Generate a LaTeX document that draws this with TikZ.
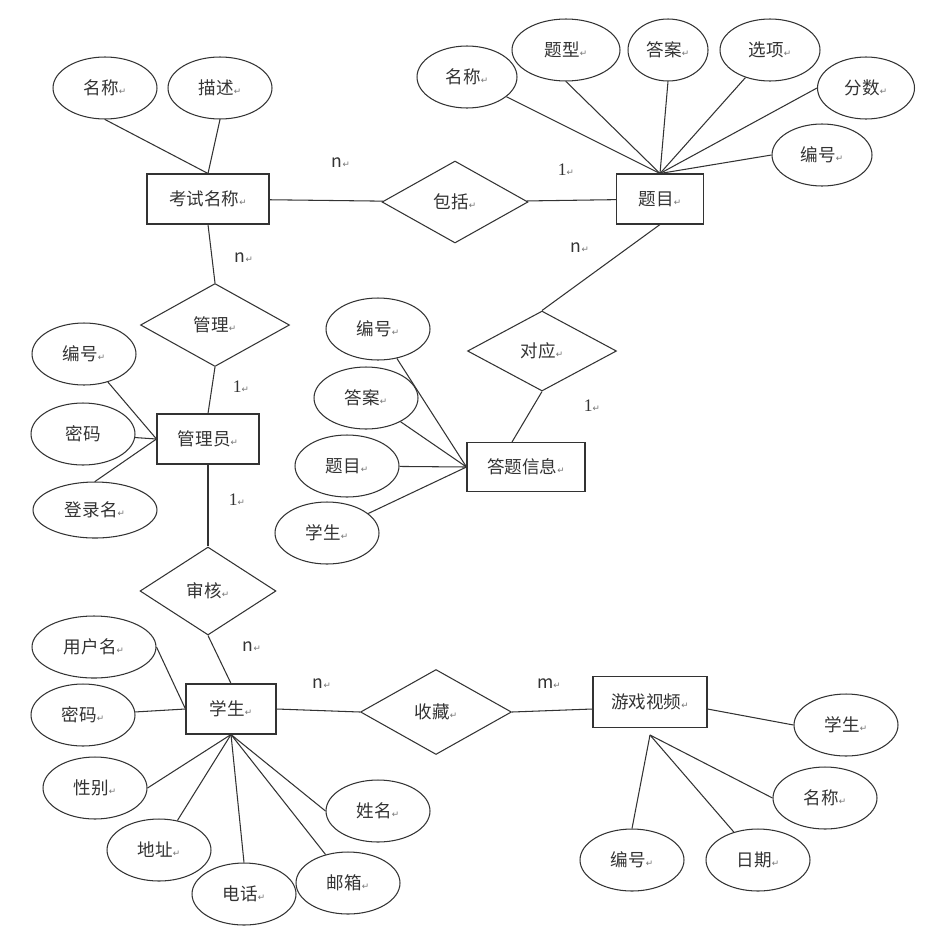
\documentclass[tikz,border=0pt]{standalone}
\usepackage{fontspec}
\setmainfont{Noto Sans CJK SC}
\newfontfamily\symfont{DejaVu Sans}
\newfontfamily\numfont{Liberation Serif}
\usetikzlibrary{shapes.geometric}
\newcommand{\pmark}{{\symfont\fontsize{5pt}{5pt}\selectfont\color{black!55}↵}}
\tikzset{
  ent/.style={draw, rectangle, inner sep=0pt, minimum width=#1, minimum height=1cm},
  attr/.style={draw, ellipse, inner sep=0pt, minimum width=#1, minimum height=1.24cm},
  attr/.default=2.08cm,
  rel/.style={draw, diamond, aspect=2, inner sep=0pt, minimum width=#1, minimum height=1.65cm},
  card/.style={inner sep=0pt}
}
\begin{document}
\begin{tikzpicture}[x=0.02cm, y=-0.02cm, line width=0.6pt, black!80, font=\fontsize{10pt}{12pt}\selectfont]
\useasboundingbox (0,0) rectangle (949,940);

% entities
\node[ent=2.44cm] (exam) at (208,199) {考试名称\pmark};
\node[ent=1.74cm] (ques) at (660,199) {题目\pmark};
\node[ent=2.36cm, minimum height=0.98cm] (answ) at (526,467) {答题信息\pmark};
\node[ent=2.04cm] (admin) at (208,439) {管理员\pmark};
\node[ent=1.8cm] (stu) at (231,709) {学生\pmark};
\node[ent=2.28cm, minimum height=1.02cm] (video) at (650,702) {游戏视频\pmark};

% relations
\node[rel=2.92cm, minimum height=1.64cm] (incl) at (455,202) {包括\pmark};
\node[rel=2.98cm, minimum height=1.66cm] (mgmt) at (215,325) {管理\pmark};
\node[rel=2.98cm, minimum height=1.6cm] (corr) at (542,351) {对应\pmark};
\node[rel=2.72cm, minimum height=1.76cm] (audit) at (208,591) {审核\pmark};
\node[rel=3.02cm, minimum height=1.7cm] (fav) at (436,712) {收藏\pmark};

% attributes of exam
\node[attr] (exname) at (105,88) {名称\pmark};
\node[attr] (exdesc) at (220,88) {描述\pmark};

% attributes of question
\node[attr=2cm] (qname) at (467,77) {名称\pmark};
\node[attr=2.16cm] (qtype) at (566,50) {题型\pmark};
\node[attr=1.6cm] (qans) at (668,50) {答案\pmark};
\node[attr=2cm] (qopt) at (770,50) {选项\pmark};
\node[attr=1.94cm] (qscore) at (866,88) {分数\pmark};
\node[attr=2cm] (qid) at (822,155) {编号\pmark};

% attributes of answer info
\node[attr] (aid) at (378,329) {编号\pmark};
\node[attr] (aans) at (366,398) {答案\pmark};
\node[attr] (aques) at (347,466) {题目\pmark};
\node[attr] (astu) at (327,533) {学生\pmark};

% attributes of admin
\node[attr] (mid) at (84,354) {编号\pmark};
\node[attr] (mpwd) at (83,434) {密码};
\node[attr=2.48cm, minimum height=1.12cm] (mlogin) at (95,510) {登录名\pmark};

% attributes of student
\node[attr=2.48cm] (suser) at (94,647) {用户名\pmark};
\node[attr] (spwd) at (83,715) {密码\pmark};
\node[attr] (ssex) at (95,788) {性别\pmark};
\node[attr] (saddr) at (159,850) {地址\pmark};
\node[attr] (stel) at (244,894) {电话\pmark};
\node[attr] (smail) at (348,883) {邮箱\pmark};
\node[attr] (sname) at (378,811) {姓名\pmark};

% attributes of video
\node[attr] (vstu) at (846,725) {学生\pmark};
\node[attr] (vname) at (825,798) {名称\pmark};
\node[attr] (vid) at (632,860) {编号\pmark};
\node[attr] (vdate) at (758,860) {日期\pmark};
\coordinate (vjoin) at ([yshift=-0.14cm]video.south);

% cardinalities
\node[card] (c1) at (341,163) {n\pmark};
\node[card] (c2) at (566,170) {{\numfont 1}\pmark};
\node[card] (c3) at (580,248) {n\pmark};
\node[card] (c4) at (244,258) {n\pmark};
\node[card] (c5) at (241,387) {{\numfont 1}\pmark};
\node[card] (c6) at (592,406) {{\numfont 1}\pmark};
\node[card] (c7) at (237,500) {{\numfont 1}\pmark};
\node[card] (c8) at (252,647) {n\pmark};
\node[card] (c9) at (322,684) {n\pmark};
\node[card] (c10) at (549,684) {m\pmark};

% entity - relation links
\draw (exam) -- (incl); % exam -- include
\draw (incl) -- (ques);
\draw (ques.south) -- (corr.north);
\draw (corr.south) -- ([xshift=-0.28cm]answ.north);
\draw (exam.south) -- (mgmt.north);
\draw (mgmt.south) -- (admin.north);
\draw (admin.south) -- (audit.north);
\draw (audit.south) -- (stu.north);
\draw (stu.east) -- (fav.west);
\draw (fav.east) -- ([yshift=-0.14cm]video.west);

% attribute links
\draw (exname.south) -- (exam.north);
\draw (exdesc.south) -- (exam.north);
\foreach \a in {qname,qopt}
  \draw (\a) -- (ques.north);
\foreach \a/\p in {qtype/south,qans/south,qscore/west,qid/west}
  \draw (\a.\p) -- (ques.north);
\foreach \a in {aid,aans,aques,astu}
  \draw (\a) -- (answ.west);
\draw (mid) -- (admin.west);
\draw (mpwd) -- (admin.west);
\draw (mlogin.north) -- (admin.west);
\draw (suser.east) -- (stu.west);
\draw (spwd) -- (stu.west);
\foreach \a/\p in {ssex/east,stel/north,sname/west}
  \draw (\a.\p) -- (stu.south);
\foreach \a in {saddr,smail}
  \draw (\a) -- (stu.south);
\draw ([yshift=-0.14cm]video.east) -- (vstu.west);
\draw (vname.west) -- (vjoin);
\draw (vid.north) -- (vjoin);
\draw (vdate) -- (vjoin);
\end{tikzpicture}
\end{document}
